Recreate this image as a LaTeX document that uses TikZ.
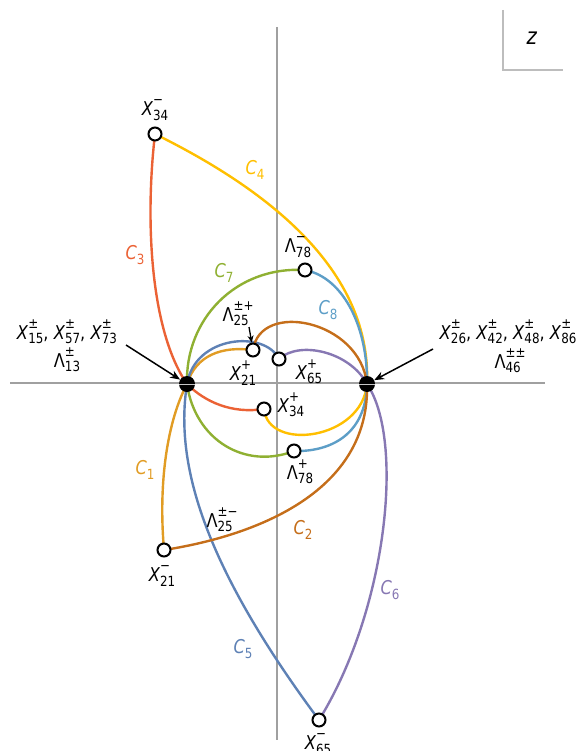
\documentclass[tikz,border=0pt]{standalone}
\usepackage{fontspec}
\setmainfont{DejaVu Sans}[FakeStretch=0.85]
\usetikzlibrary{arrows.meta}
\definecolor{cBlue}{HTML}{5E81B5}
\definecolor{cOrange}{HTML}{E19C24}
\definecolor{cGreen}{HTML}{8FB032}
\definecolor{cRed}{HTML}{EB6235}
\definecolor{cPurple}{HTML}{8778B3}
\definecolor{cBrown}{HTML}{C56E1A}
\definecolor{cLBlue}{HTML}{5D9EC7}
\definecolor{cYellow}{HTML}{FFBF00}
\definecolor{axgray}{HTML}{A0A0A0}
\newcommand{\sx}[3]{#1{\fontsize{14}{14}\selectfont\setbox0\hbox{#2}\setbox2\hbox{#3}\ifdim\wd0>\wd2 \dimen0=\wd0 \else \dimen0=\wd2 \fi\rlap{\raise0.76em\box0}\rlap{\lower0.33em\box2}\kern\dimen0}}
\newcommand{\Xl}[2]{\sx{\textit{X}}{#1}{#2}}
\newcommand{\Ll}[2]{\sx{Λ}{#1}{#2}}
\newcommand{\Cl}[1]{\sx{\textit{C}}{}{#1}}
\begin{document}
\begin{tikzpicture}[x=1pt,y=-1pt,
  curve/.style={line width=2.4pt},
  ptnode/.style={circle,draw=black,fill=white,line width=2pt,inner sep=0pt,minimum size=13pt},
  singnode/.style={circle,fill=black,inner sep=0pt,minimum size=16pt},
  axisline/.style={draw=axgray,line width=1.3pt},
  lbl/.style={font=\fontsize{19}{23}\selectfont,inner sep=1pt,align=center},
  arr/.style={-{Stealth[length=10pt,width=8pt]},line width=1.5pt}]
\useasboundingbox (0,0) rectangle (579,751);
% axes
\coordinate (axL) at (10,383);
\coordinate (axR) at (545,383);
\coordinate (axT) at (277,27);
\coordinate (axB) at (277,740);
\draw[axisline] (axL) -- (axR);
\draw[axisline] (axT) -- (axB);
% z box
\coordinate (zb1) at (503,10);
\coordinate (zb2) at (503,70);
\coordinate (zb3) at (563,70);
\draw[draw=axgray!70,line width=1.3pt] (zb1) -- (zb2) -- (zb3);
\node[lbl,font=\fontsize{23}{26}\selectfont] (zlab) at (532,38) {\textit{z}};
% points
\coordinate (L) at (187,384);
\coordinate (R) at (367,384);
\coordinate (X34m) at (155,134);
\coordinate (L78m) at (305,270);
\coordinate (X21p) at (253,350);
\coordinate (X65p) at (279,359);
\coordinate (X34p) at (264,409);
\coordinate (L78p) at (294,451);
\coordinate (X21m) at (164,550);
\coordinate (X65m) at (319,720);
% curves
\draw[curve,cRed] (X34m) .. controls (145,220) and (150,330) .. (L) .. controls (205,402) and (232,414) .. (X34p);
\draw[curve,cYellow] (X34m) .. controls (252,182) and (372,262) .. (R) .. controls (362,440) and (268,452) .. (X34p);
\draw[curve,cGreen] (L) .. controls (185,320) and (235,266) .. (L78m);
\draw[curve,cGreen] (L) .. controls (195,440) and (245,470) .. (L78p);
\draw[curve,cLBlue] (L78m) .. controls (345,278) and (368,330) .. (R) .. controls (366,435) and (330,452) .. (L78p);
\draw[curve,cOrange] (X21m) .. controls (158,480) and (168,420) .. (L) .. controls (196,355) and (222,346) .. (X21p);
\draw[curve,cBlue] (X65m) .. controls (200,560) and (175,460) .. (L) .. controls (195,335) and (265,330) .. (X65p);
\draw[curve,cPurple] (X65m) .. controls (387,610) and (405,440) .. (R) .. controls (350,352) and (300,340) .. (X65p);
\draw[curve,cBrown] (X21m) .. controls (260,535) and (370,490) .. (R) .. controls (360,320) and (260,300) .. (X21p);
% markers
\node[singnode] (Ld) at (L) {};
\node[singnode] (Rd) at (R) {};
\draw[axgray!60,line width=0.8pt] ([xshift=-8pt]Ld.center) -- ([xshift=8pt]Ld.center);
\draw[axgray!60,line width=0.8pt] ([xshift=-8pt]Rd.center) -- ([xshift=8pt]Rd.center);
\foreach \p in {X34m,L78m,X21p,X65p,X34p,L78p,X21m,X65m}{
  \node[ptnode] (\p c) at (\p) {};
}
% curve labels
\node[lbl,text=cRed] (lC3) at (135,255) {\Cl{3}};
\node[lbl,text=cYellow] (lC4) at (255,170) {\Cl{4}};
\node[lbl,text=cGreen] (lC7) at (224,273) {\Cl{7}};
\node[lbl,text=cLBlue] (lC8) at (328,310) {\Cl{8}};
\node[lbl,text=cOrange] (lC1) at (145,470) {\Cl{1}};
\node[lbl,text=cBrown] (lC2) at (303,530) {\Cl{2}};
\node[lbl,text=cBlue] (lC5) at (243,649) {\Cl{5}};
\node[lbl,text=cPurple] (lC6) at (390,590) {\Cl{6}};
% point labels
\node[lbl] (tX34m) at (155,110) {\Xl{−}{34}};
\node[lbl] (tL78m) at (298,247) {\Ll{−}{78}};
\node[lbl] (tL25a) at (238,314) {\Ll{±+}{25}};
\node[lbl] (tX21p) at (243,373) {\Xl{+}{21}};
\node[lbl] (tX65p) at (309,372) {\Xl{+}{65}};
\node[lbl] (tX34p) at (291,405) {\Xl{+}{34}};
\node[lbl] (tL78p) at (300,472) {\Ll{+}{78}};
\node[lbl] (tL25b) at (222,520) {\Ll{±−}{25}};
\node[lbl] (tX21m) at (162,576) {\Xl{−}{21}};
\node[lbl] (tX65m) at (318,744) {\Xl{−}{65}};
\node[lbl,anchor=base] (tLeftA) at (67,339) {\Xl{±}{15}, \Xl{±}{57}, \Xl{±}{73}};
\node[lbl,anchor=base] (tLeftB) at (67,367) {\Ll{±}{13}};
\node[lbl,anchor=base] (tRightA) at (508,339) {\Xl{±}{26}, \Xl{±}{42}, \Xl{±}{48}, \Xl{±}{86}};
\node[lbl,anchor=base] (tRightB) at (510,368) {\Ll{±±}{46}};
% arrows
\coordinate (la) at (126,345);
\coordinate (ra) at (433,349);
\coordinate (sa) at (249,327);
\draw[arr] (la) -- (Ld);
\draw[arr] (ra) -- (Rd);
\draw[-{Stealth[length=7pt,width=6pt]},line width=1.3pt] (sa) -- (X21pc);
\end{tikzpicture}
\end{document}
